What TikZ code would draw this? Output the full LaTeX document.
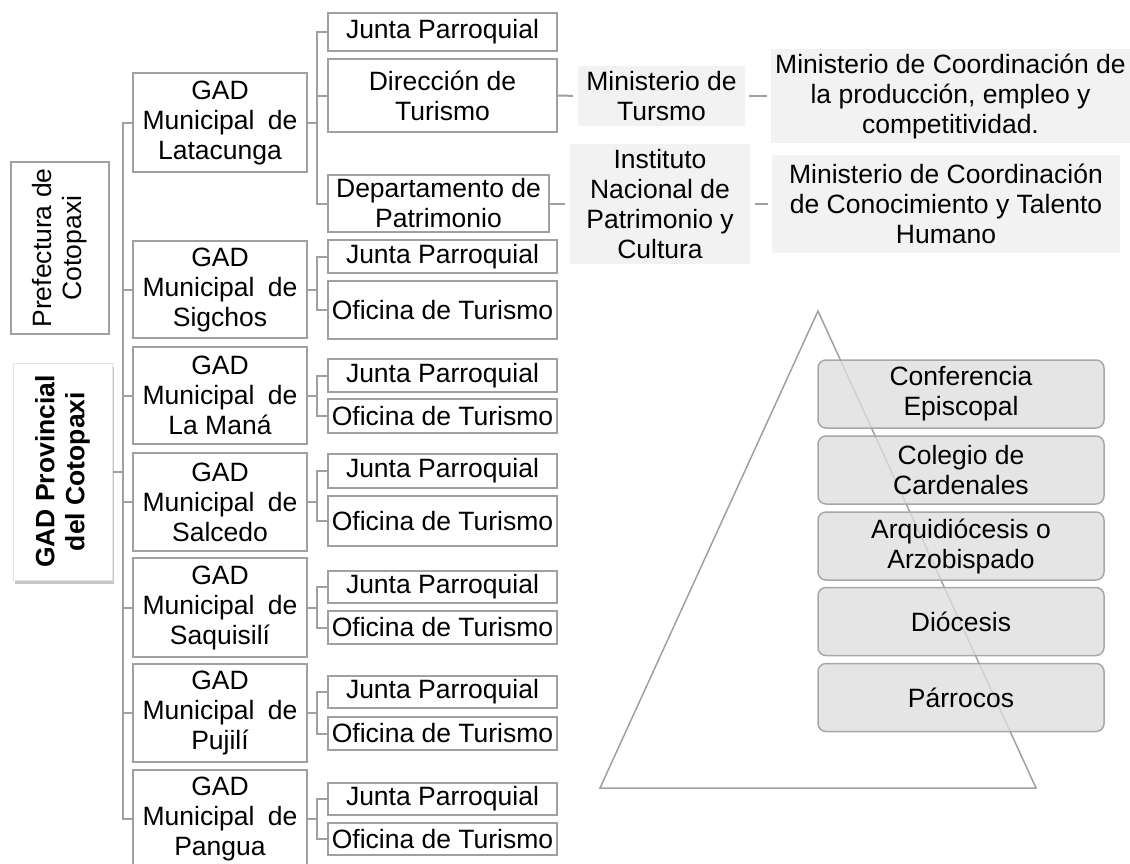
\documentclass[tikz,border=0pt]{standalone}
\usepackage{fontspec}
\setmainfont{Liberation Sans}
\usetikzlibrary{shadows,backgrounds}
\definecolor{bgray}{HTML}{A0A0A0}
\definecolor{lfill}{HTML}{F2F2F2}
\definecolor{pfill}{HTML}{DEDEDE}
\definecolor{pgray}{HTML}{A8A8A8}
\begin{document}
\begin{tikzpicture}[x=1pt,y=-1pt,
  fs/.style={font=\fontsize{26.5}{30}\selectfont},
  box/.style={fs,draw=bgray,line width=2pt,fill=white,inner sep=0pt,align=center},
  gad/.style={box,minimum width=174pt,minimum height=99pt},
  kid/.style={box,minimum width=229pt},
  gbox/.style={fs,fill=lfill,inner sep=0pt,align=center},
  rbox/.style={fs,draw=pgray,line width=1.5pt,fill=pfill,fill opacity=0.78,text opacity=1,
    rounded corners=8pt,inner sep=0pt,align=center,minimum width=286pt,minimum height=68pt},
  conn/.style={draw=bgray,line width=2pt,line cap=rect},
  link/.style={draw=bgray,line width=2pt},
  tri/.style={draw=bgray,line width=1.5pt}]
\useasboundingbox (0,0) rectangle (1130,863);

% left column
\node[box,rotate=90,minimum width=172pt,minimum height=98pt] (pref) at (60,248) {Prefectura de\\Cotopaxi};
\node[fs,rotate=90,fill=white,draw=gray!20,line width=1pt,inner sep=0pt,align=center,
  minimum width=217pt,minimum height=99pt,
  drop shadow={shadow xshift=2pt,shadow yshift=-4pt,opacity=0.45,fill=gray}] (prov) at (62.5,471.5) {\bfseries GAD Provincial\\\bfseries del Cotopaxi};

% municipal column
\node[gad] (lat) at (220,122.5) {GAD\\Municipal\hspace{.5em}de\\Latacunga};
\node[gad,minimum height=97pt] (sig) at (220,289.5) {GAD\\Municipal\hspace{.5em}de\\Sigchos};
\node[gad,minimum height=97pt] (man) at (220,395.5) {GAD\\Municipal\hspace{.5em}de\\La Maná};
\node[gad,minimum height=98pt] (sal) at (220,502) {GAD\\Municipal\hspace{.5em}de\\Salcedo};
\node[gad] (saq) at (220,607.5) {GAD\\Municipal\hspace{.5em}de\\Saquisilí};
\node[gad,minimum height=98pt] (puj) at (220,713) {GAD\\Municipal\hspace{.5em}de\\Pujilí};
\node[gad,minimum height=98pt] (pan) at (220,819) {GAD\\Municipal\hspace{.5em}de\\Pangua};

% third column
\node[kid,minimum height=38pt] (jp1) at (442.5,32) {Junta Parroquial};
\node[kid,minimum height=73pt] (dir) at (442.5,95.5) {Dirección de\\Turismo};
\node[box,minimum width=221pt,minimum height=57pt] (dep) at (438.5,203.5) {Departamento de\\Patrimonio};
\node[kid,minimum height=33pt] (jp2) at (442.5,256.5) {Junta Parroquial};
\node[kid,minimum height=58pt] (of2) at (442.5,310) {Oficina de Turismo};
\node[kid,minimum height=33pt] (jp3) at (442.5,375.5) {Junta Parroquial};
\node[kid,minimum height=34pt] (of3) at (442.5,416) {Oficina de Turismo};
\node[kid,minimum height=34pt] (jp4) at (442.5,471) {Junta Parroquial};
\node[kid,minimum height=50pt] (of4) at (442.5,521) {Oficina de Turismo};
\node[kid,minimum height=32pt] (jp5) at (442.5,587) {Junta Parroquial};
\node[kid,minimum height=33pt] (of5) at (442.5,627.5) {Oficina de Turismo};
\node[kid,minimum height=32pt] (jp6) at (442.5,692) {Junta Parroquial};
\node[kid,minimum height=33pt] (of6) at (442.5,733.5) {Oficina de Turismo};
\node[kid,minimum height=32pt] (jp7) at (442.5,799) {Junta Parroquial};
\node[kid,minimum height=32pt] (of7) at (442.5,839) {Oficina de Turismo};

% ministries
\node[gbox,minimum width=167pt,minimum height=60pt] (mtur) at (661.5,96) {Ministerio de\\Tursmo};
\node[gbox,minimum width=359pt,minimum height=94pt] (mprod) at (950.5,96) {Ministerio de Coordinación de\\la producción, empleo y\\competitividad.};
\node[gbox,minimum width=180pt,minimum height=120pt] (inpc) at (660,204) {Instituto\\Nacional de\\Patrimonio y\\Cultura};
\node[gbox,minimum width=348pt,minimum height=98pt] (mcon) at (946,204) {Ministerio de Coordinación\\de Conocimiento y Talento\\Humano};

% connectors
\coordinate (tr) at (123,0);
\coordinate (sb) at (317,0);
\begin{scope}[on background layer]
  \draw[conn] (prov.south) -- (prov.south -| tr);
  \draw[conn] (lat.west -| tr) -- (pan.west -| tr);
  \foreach \g in {lat,sig,man,sal,saq,puj,pan} {\draw[conn] (\g.west) -- (\g.west -| tr);}
  \draw[conn] (lat.east) -- (lat.east -| sb);
  \draw[conn] (jp1.west -| sb) -- (dep.west -| sb);
  \foreach \c in {jp1,dir,dep} {\draw[conn] (\c.west) -- (\c.west -| sb);}
  \foreach \g/\a/\b in {sig/jp2/of2,man/jp3/of3,sal/jp4/of4,saq/jp5/of5,puj/jp6/of6,pan/jp7/of7} {
    \draw[conn] (\g.east) -- (\g.east -| sb);
    \draw[conn] (\a.west -| sb) -- (\b.west -| sb);
    \draw[conn] (\a.west) -- (\a.west -| sb);
    \draw[conn] (\b.west) -- (\b.west -| sb);
  }
\end{scope}
\draw[link,shorten >=5pt] (dir.east) -- (mtur.west);
\draw[link,shorten <=4pt,shorten >=4pt] (mtur.east) -- (mprod.west);
\draw[link,shorten >=5pt] (dep.east) -- (dep.east -| inpc.west);
\draw[link,shorten <=5pt,shorten >=4pt] (inpc.east) -- (inpc.east -| mcon.west);

% pyramid
\coordinate (apex) at (818,311);
\coordinate (bl) at (600,788);
\coordinate (br) at (1036,788);
\draw[tri] (apex) -- (bl) -- (br) -- cycle;
\node[rbox] (r1) at (961,394) {Conferencia\\Episcopal};
\node[rbox] (r2) at (961,470) {Colegio de\\Cardenales};
\node[rbox] (r3) at (961,546) {Arquidiócesis o\\Arzobispado};
\node[rbox] (r4) at (961,621.5) {Diócesis};
\node[rbox] (r5) at (961,697.5) {Párrocos};
\end{tikzpicture}
\end{document}
